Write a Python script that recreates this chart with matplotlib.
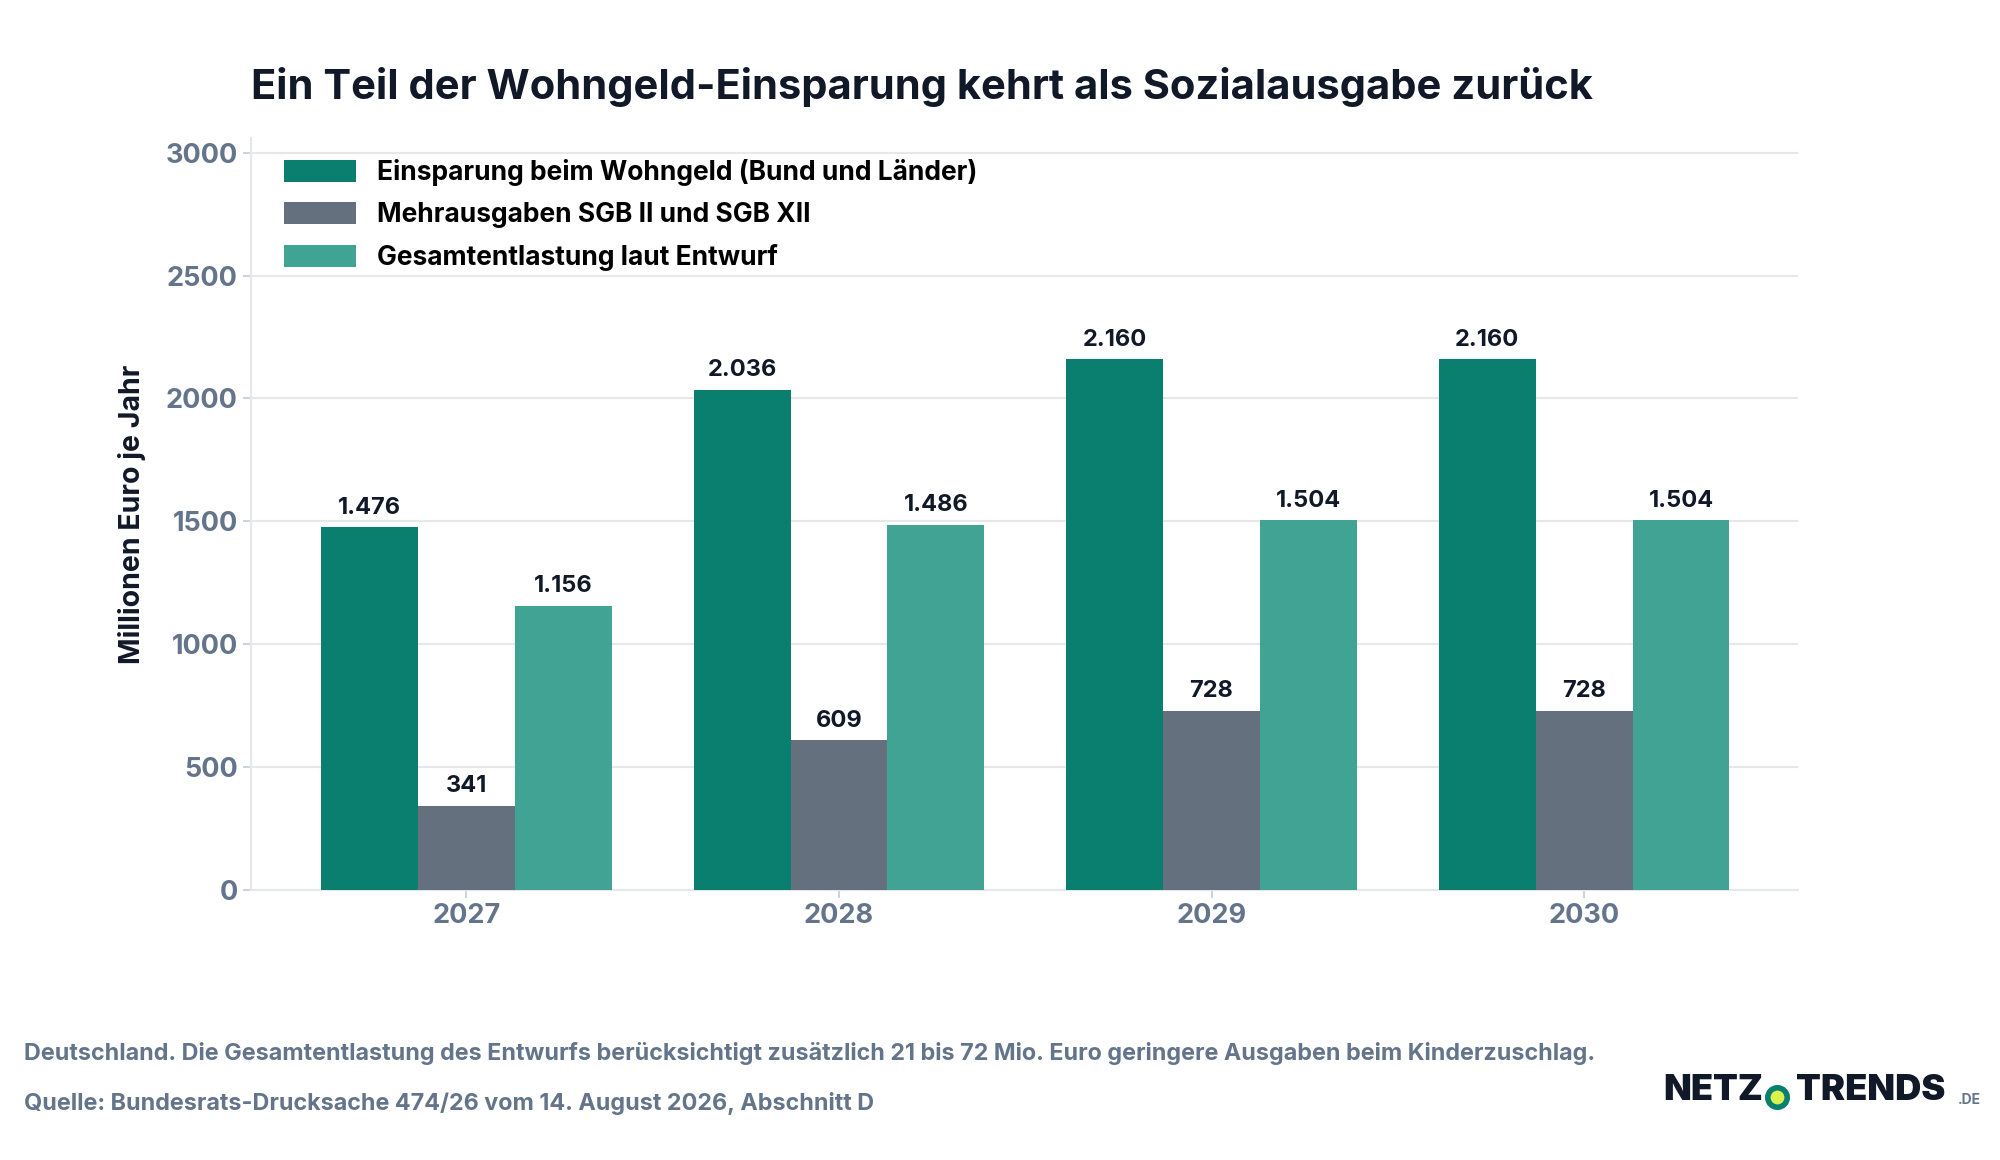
import numpy as np
import matplotlib.pyplot as plt

plt.rcParams['font.family'] = ['Inter', 'DejaVu Sans']

years = ["2027", "2028", "2029", "2030"]
einsparung = [1476, 2036, 2160, 2160]
mehrausgaben = [341, 609, 728, 728]
gesamt = [1156, 1486, 1504, 1504]
series_names = ["Einsparung beim Wohngeld (Bund und Länder)",
                "Mehrausgaben SGB II und SGB XII",
                "Gesamtentlastung laut Entwurf"]
colors = ["#0b7f6f", "#64707d", "#41a394"]
gray = "#64748b"
dark = "#111827"

fig = plt.figure(figsize=(20, 11.6), dpi=100)
ax = fig.add_axes([0.1255, 0.233, 0.7735, 0.648])

x = np.arange(len(years))
w = 0.26
for i, (vals, name, c) in enumerate(zip([einsparung, mehrausgaben, gesamt], series_names, colors)):
    bars = ax.bar(x + (i - 1) * w, vals, w, color=c, label=name, zorder=3)
    for b, v in zip(bars, vals):
        ax.text(b.get_x() + b.get_width() / 2, v + 35, f"{v:,}".replace(",", "."),
                ha="center", va="bottom", fontsize=17, fontweight="bold", color=dark)

ax.set_xlim(-0.578, 3.574)
ax.set_ylim(0, 3060)
ax.set_yticks(range(0, 3001, 500))
ax.set_xticks(x)
ax.set_xticklabels(years)
ax.tick_params(axis="both", labelsize=19.5, colors="#cbd5e1", labelcolor=gray, length=6, width=1.5)
for lab in ax.get_xticklabels() + ax.get_yticklabels():
    lab.set_fontweight("bold")
ax.grid(axis="y", color="#e5e7eb", linewidth=1.5, zorder=0)
for s in ["top", "right"]:
    ax.spines[s].set_visible(False)
for s in ["left", "bottom"]:
    ax.spines[s].set_color("#e5e7eb")
    ax.spines[s].set_linewidth(1.5)
ax.set_ylabel("Millionen Euro je Jahr", fontsize=20.5, fontweight="bold", color=dark, labelpad=14)

ax.legend(loc="upper left", bbox_to_anchor=(0.008, 1.0), frameon=False,
          prop={"weight": "bold", "size": 19}, handlelength=2.7, handleheight=0.9,
          labelspacing=0.6, borderaxespad=0.4)

fig.text(0.1255, 0.925, "Ein Teil der Wohngeld-Einsparung kehrt als Sozialausgabe zurück",
         fontsize=30, fontweight="bold", color=dark, va="center")
fig.text(0.012, 0.092, "Deutschland. Die Gesamtentlastung des Entwurfs berücksichtigt zusätzlich 21 bis 72 Mio. Euro geringere Ausgaben beim Kinderzuschlag.",
         fontsize=16.8, fontweight="bold", color=gray, va="center")
fig.text(0.012, 0.049, "Quelle: Bundesrats-Drucksache 474/26 vom 14. August 2026, Abschnitt D",
         fontsize=16.8, fontweight="bold", color=gray, va="center")

# logo
fig.text(0.8315, 0.060, "NETZ", fontsize=26, fontweight="black", color=dark, va="center")
fig.text(0.898, 0.060, "TRENDS", fontsize=26, fontweight="black", color=dark, va="center")
fig.text(0.979, 0.052, ".DE", fontsize=10, fontweight="bold", color=gray, va="center")
fig.add_artist(plt.Line2D([0.8885], [0.0545], transform=fig.transFigure, marker="o",
                          markersize=14, markerfacecolor="#d9f24e", markeredgecolor="#0b7f6f",
                          markeredgewidth=4))

fig.savefig("out.png", dpi=100, facecolor="white")
